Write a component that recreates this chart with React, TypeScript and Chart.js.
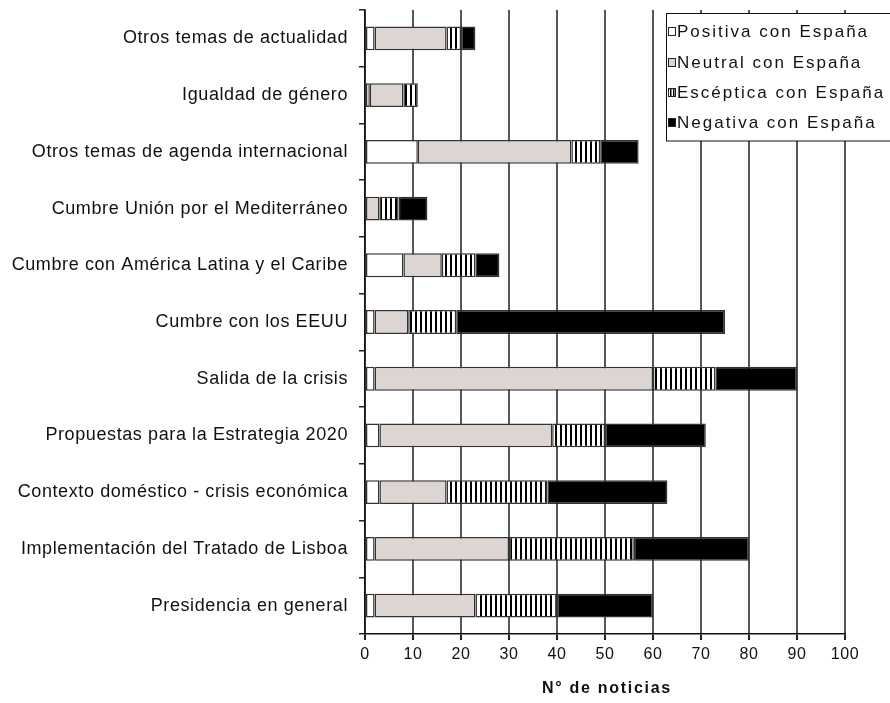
import React, { useEffect, useRef } from "react";
import { Chart, registerables } from "chart.js";

Chart.register(...registerables);

const categories = [
  "Otros temas de actualidad",
  "Igualdad de género",
  "Otros temas de agenda internacional",
  "Cumbre Unión por el Mediterráneo",
  "Cumbre con América Latina y el Caribe",
  "Cumbre con los EEUU",
  "Salida de la crisis",
  "Propuestas para la Estrategia 2020",
  "Contexto doméstico - crisis económica",
  "Implementación del Tratado de Lisboa",
  "Presidencia en general",
];

const positiva = [2, 1, 11, 0, 8, 2, 2, 3, 3, 2, 2];
const neutral = [15, 7, 32, 3, 8, 7, 58, 36, 14, 28, 21];
const esceptica = [3, 3, 6, 4, 7, 10, 13, 11, 21, 26, 17];
const negativa = [3, 0, 8, 6, 5, 56, 17, 21, 25, 24, 20];

const seriesLabels = [
  "Positiva con España",
  "Neutral con España",
  "Escéptica con España",
  "Negativa con España",
];

const xMin = 0;
const xMax = 100;
const xStep = 10;
const axisTitle = "N° de noticias";

const FONT = "'Liberation Sans', Arial, Helvetica, sans-serif";

function makeStripe(): CanvasPattern | string {
  const c = document.createElement("canvas");
  c.width = 5;
  c.height = 4;
  const g = c.getContext("2d");
  if (!g) return "#666";
  g.fillStyle = "#ffffff";
  g.fillRect(0, 0, 5, 4);
  g.fillStyle = "#000000";
  g.fillRect(0, 0, 2, 4);
  return g.createPattern(c, "repeat") || "#666";
}

const decorPlugin = {
  id: "decor",
  beforeDraw(chart: any) {
    chart.ctx.letterSpacing = "0.6px";
  },
  afterDraw(chart: any) {
    const ctx: CanvasRenderingContext2D = chart.ctx;
    const xs = chart.scales.x;
    ctx.save();
    // axis title
    (ctx as any).letterSpacing = "1.7px";
    ctx.font = `bold 16px ${FONT}`;
    ctx.fillStyle = "#111";
    ctx.textAlign = "center";
    ctx.textBaseline = "middle";
    ctx.fillText(axisTitle, (xs.left + xs.right) / 2 + 2, 689);

    // legend box
    ctx.fillStyle = "#ffffff";
    ctx.fillRect(666.5, 13.5, 240, 127.5);
    ctx.strokeStyle = "#111";
    ctx.lineWidth = 1;
    ctx.strokeRect(666.5, 13.5, 240, 127.5);

    const baselines = [37, 68, 98, 128];
    const fills = chart.data.datasets.map((d: any) => d.backgroundColor);
    (ctx as any).letterSpacing = "2px";
    ctx.font = `17px ${FONT}`;
    ctx.textAlign = "left";
    ctx.textBaseline = "alphabetic";
    seriesLabels.forEach((lab, i) => {
      const b = baselines[i];
      const sx = 668.5;
      const sy = b - 9.5;
      const sw = 7;
      const sh = 8;
      if (i === 2) {
        ctx.fillStyle = "#fff";
        ctx.fillRect(sx, sy, sw, sh);
        ctx.fillStyle = "#000";
        ctx.fillRect(sx + 1.5, sy, 1.5, sh);
        ctx.fillRect(sx + 4.5, sy, 1.5, sh);
      } else {
        ctx.fillStyle = fills[i];
        ctx.fillRect(sx, sy, sw, sh);
      }
      ctx.strokeStyle = "#222";
      ctx.lineWidth = 1;
      ctx.strokeRect(sx, sy, sw, sh);
      ctx.fillStyle = "#111";
      ctx.fillText(lab, 677, b);
    });
    ctx.restore();
  },
};

export default function App() {
  const ref = useRef<HTMLCanvasElement | null>(null);

  useEffect(() => {
    if (!ref.current) return;
    const stripe = makeStripe();
    const common = {
      borderColor: "#333333",
      borderWidth: 1.5,
      borderSkipped: false,
      categoryPercentage: 1,
      barPercentage: 0.42,
    };
    const chart = new Chart(ref.current, {
      type: "bar",
      data: {
        labels: categories,
        datasets: [
          { label: seriesLabels[0], data: positiva, backgroundColor: "#ffffff", ...common },
          { label: seriesLabels[1], data: neutral, backgroundColor: "#ddd5d2", ...common },
          { label: seriesLabels[2], data: esceptica, backgroundColor: stripe as any, ...common },
          { label: seriesLabels[3], data: negativa, backgroundColor: "#000000", ...common },
        ] as any,
      },
      options: {
        indexAxis: "y",
        animation: false,
        responsive: false,
        devicePixelRatio: 1,
        layout: { padding: { top: 10, right: 45, left: 0, bottom: 0 } },
        plugins: {
          legend: { display: false },
          tooltip: { enabled: false },
          title: { display: false },
        },
        scales: {
          x: {
            stacked: true,
            min: xMin,
            max: xMax,
            ticks: {
              stepSize: xStep,
              autoSkip: false,
              maxRotation: 0,
              color: "#111",
              padding: 5,
              font: { family: FONT, size: 16 },
            },
            grid: {
              color: "#555555",
              lineWidth: 2,
              drawTicks: true,
              tickLength: 6,
              tickColor: "#222",
            },
            border: { display: true, color: "#111", width: 1.5 },
            afterFit(s: any) {
              s.height = 69;
              s.paddingLeft = 0;
              s.paddingRight = 0;
            },
          },
          y: {
            stacked: true,
            ticks: {
              autoSkip: false,
              color: "#111",
              padding: 11,
              font: { family: FONT, size: 18 },
            },
            grid: {
              drawOnChartArea: false,
              drawTicks: true,
              tickLength: 6,
              color: "#222",
              lineWidth: 1.5,
              offset: true,
            },
            border: { display: true, color: "#111", width: 1.5 },
            afterFit(s: any) {
              s.width = 365;
              s.paddingTop = 0;
              s.paddingBottom = 0;
            },
          },
        },
      } as any,
      plugins: [decorPlugin],
    });
    return () => chart.destroy();
  }, []);

  return (
    <div style={{ position: "absolute", left: 0, top: 0, width: 890, height: 703, background: "#fff" }}>
      <canvas ref={ref} width={890} height={703} style={{ width: 890, height: 703, display: "block" }} />
    </div>
  );
}
